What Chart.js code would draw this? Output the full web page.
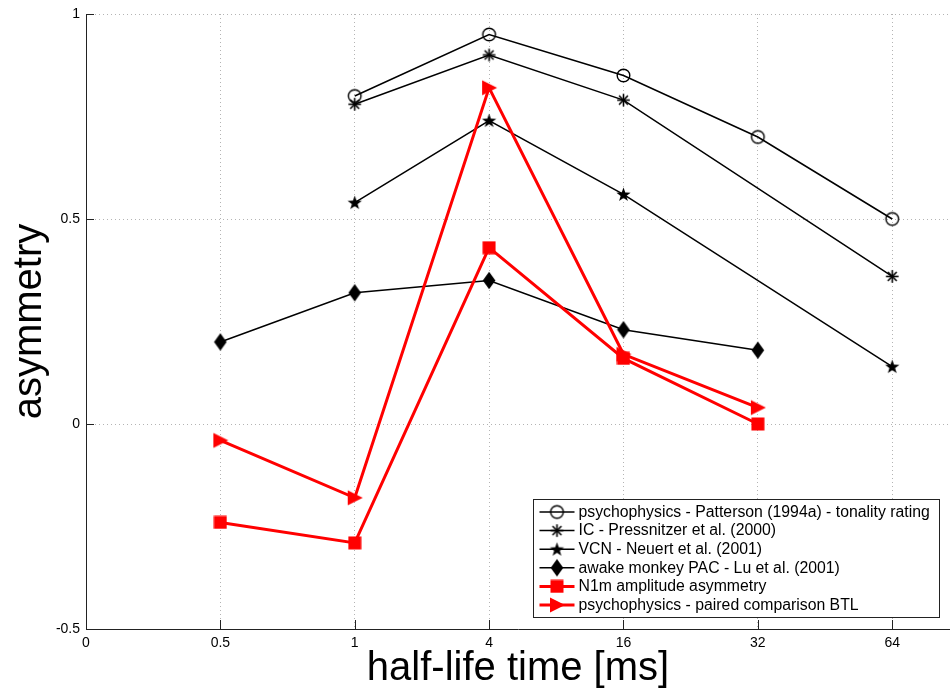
<!DOCTYPE html>
<html>
<head>
<meta charset="utf-8">
<title>asymmetry vs half-life time</title>
<script src="https://cdn.jsdelivr.net/npm/chart.js@4.4.1/dist/chart.umd.min.js"></script>
<style>
	html, body { margin: 0; padding: 0; background: #fff; }
	#wrap { position: relative; width: 950px; height: 691px; }
</style>
</head>
<body>
<div id="wrap"><canvas id="canAsym"></canvas></div>
<script>
'use strict'

//////////////////////////////////////////////////////////////////////
// データ
const halfLifeLabels = ['0', '0.5', '1', '4', '16', '32', '64']; // x軸（等間隔）
const yTickValues = [-0.5, 0, 0.5, 1];

// 各系列（null = 値なし）
const pattersonTonality = [null, null, 0.80, 0.95, 0.85, 0.70, 0.50];
const icPressnitzer     = [null, null, 0.78, 0.90, 0.79, null, 0.36];
const vcnNeuert         = [null, null, 0.54, 0.74, 0.56, null, 0.14];
const monkeyPacLu       = [null, 0.20, 0.32, 0.35, 0.23, 0.18, null];
const n1mAsymmetry      = [null, -0.24, -0.29, 0.43, 0.16, 0.00, null];
const pairedBtl         = [null, -0.04, -0.18, 0.82, 0.17, 0.04, null];

const seriesNames = [
	'psychophysics - Patterson (1994a) - tonality rating',
	'IC - Pressnitzer et al. (2000)',
	'VCN - Neuert et al. (2001)',
	'awake monkey PAC - Lu et al. (2001)',
	'N1m amplitude asymmetry',
	'psychophysics - paired comparison BTL'
];

const RED = '#ff0000';
const FONT = '"Liberation Sans", Arial, Helvetica, sans-serif';


//////////////////////////////////////////////////////////////////////
// マーカー（canvasで作る）
let makeMarker = function (w, h, draw) {
	const c = document.createElement('canvas');
	c.width = w;
	c.height = h;
	draw(c.getContext('2d'), w / 2, h / 2);
	return c;
};

const mkCircle = makeMarker(17, 17, (g, cx, cy) => {
	g.strokeStyle = '#000'; g.lineWidth = 1.4;
	g.beginPath(); g.arc(cx, cy, 6.3, 0, Math.PI * 2); g.stroke();
});

const mkAsterisk = makeMarker(17, 17, (g, cx, cy) => {
	g.strokeStyle = '#000'; g.lineWidth = 1.6;
	const r = 6.3;
	for (let k = 0; k < 4; k++) {
		const a = k * Math.PI / 4;
		g.beginPath();
		g.moveTo(cx - r * Math.cos(a), cy - r * Math.sin(a));
		g.lineTo(cx + r * Math.cos(a), cy + r * Math.sin(a));
		g.stroke();
	}
});

const mkPentagram = makeMarker(17, 17, (g, cx, cy) => {
	g.fillStyle = '#000';
	g.beginPath();
	for (let k = 0; k < 10; k++) {
		const r = (k % 2 === 0) ? 7.5 : 3.0;
		const a = -Math.PI / 2 + k * Math.PI / 5;
		const px = cx + r * Math.cos(a), py = cy + 0.5 + r * Math.sin(a);
		if (k === 0) g.moveTo(px, py); else g.lineTo(px, py);
	}
	g.closePath(); g.fill();
});

const mkDiamond = makeMarker(14, 19, (g, cx, cy) => {
	g.fillStyle = '#000';
	g.beginPath();
	g.moveTo(cx, cy - 8.8); g.lineTo(cx + 6.3, cy); g.lineTo(cx, cy + 8.8); g.lineTo(cx - 6.3, cy);
	g.closePath(); g.fill();
});

const mkSquare = makeMarker(14, 14, (g, cx, cy) => {
	g.fillStyle = RED;
	g.fillRect(cx - 6.5, cy - 6.5, 13, 13);
});

const mkTriangle = makeMarker(18, 18, (g, cx, cy) => {
	g.fillStyle = RED;
	g.beginPath();
	g.moveTo(cx + 8, cy); g.lineTo(cx - 7, cy - 7.5); g.lineTo(cx - 7, cy + 7.5);
	g.closePath(); g.fill();
});


//////////////////////////////////////////////////////////////////////
// datasets
let toPoints = function (arr) {
	const pts = [];
	arr.forEach((v, i) => { if (v !== null) pts.push({ x: i, y: v }); });
	return pts;
};

let seriesData = [pattersonTonality, icPressnitzer, vcnNeuert, monkeyPacLu, n1mAsymmetry, pairedBtl];
let seriesMarkers = [mkCircle, mkAsterisk, mkPentagram, mkDiamond, mkSquare, mkTriangle];
let seriesColors = ['#000', '#000', '#000', '#000', RED, RED];
let seriesWidths = [1.5, 1.5, 1.5, 1.5, 3, 3];

let datasetsAsym = seriesData.map((arr, i) => ({
	label: seriesNames[i],
	data: toPoints(arr),
	borderColor: seriesColors[i],
	backgroundColor: seriesColors[i],
	borderWidth: seriesWidths[i],
	pointStyle: seriesMarkers[i],
	pointRadius: 6,
	pointHoverRadius: 6,
	tension: 0,
	spanGaps: true,
	order: i >= 4 ? 0 : 1
}));


//////////////////////////////////////////////////////////////////////
// 内向きの目盛り（MATLAB風）
const inwardTicks = {
	id: 'inwardTicks',
	beforeDatasetsDraw(chart) {
		const { ctx, chartArea, scales } = chart;
		ctx.save();
		ctx.strokeStyle = '#222';
		ctx.lineWidth = 1;
		ctx.beginPath();
		halfLifeLabels.forEach((_, i) => {
			const px = Math.round(scales.x.getPixelForValue(i)) + 0.5;
			ctx.moveTo(px, chartArea.bottom);
			ctx.lineTo(px, chartArea.bottom - 9);
		});
		yTickValues.forEach((v) => {
			const py = Math.round(scales.y.getPixelForValue(v)) + 0.5;
			ctx.moveTo(chartArea.left, py);
			ctx.lineTo(chartArea.left + 8, py);
		});
		ctx.stroke();
		ctx.restore();
	}
};

// 凡例（プロット内右下の枠）
const boxLegend = {
	id: 'boxLegend',
	afterDraw(chart) {
		const { ctx } = chart;
		const bx = 533.5, by = 499.5, bw = 406, bh = 118;
		ctx.save();
		ctx.fillStyle = '#fff';
		ctx.fillRect(bx, by, bw, bh);
		ctx.strokeStyle = '#222';
		ctx.lineWidth = 1;
		ctx.strokeRect(bx, by, bw, bh);

		ctx.font = '15.8px ' + FONT;
		ctx.textBaseline = 'middle';
		ctx.textAlign = 'left';
		seriesNames.forEach((name, i) => {
			const ry = by + 12.5 + i * 18.6;
			ctx.strokeStyle = seriesColors[i];
			ctx.lineWidth = seriesWidths[i];
			ctx.beginPath();
			ctx.moveTo(bx + 6, ry);
			ctx.lineTo(bx + 41, ry);
			ctx.stroke();
			const m = seriesMarkers[i];
			ctx.drawImage(m, bx + 23.5 - m.width / 2, ry - m.height / 2);
			ctx.fillStyle = '#000';
			ctx.fillText(name, bx + 45, ry + 0.5);
		});
		ctx.restore();
	}
};


//////////////////////////////////////////////////////////////////////
// chart
const canAsym = document.getElementById('canAsym');
const ctxAsym = canAsym.getContext('2d');

let myChartAsym = new Chart(ctxAsym, {
	type: 'line',
	data: { datasets: datasetsAsym },
	options: {
		responsive: true,
		maintainAspectRatio: false,
		animation: false,
		layout: { autoPadding: false, padding: { top: 14, right: 0, bottom: 0, left: 0 } },
		plugins: {
			legend: { display: false },
			tooltip: { enabled: false }
		},
		scales: {
			x: {
				type: 'linear',
				min: 0,
				max: 6.43,
				afterBuildTicks: (s) => { s.ticks = halfLifeLabels.map((_, i) => ({ value: i })); },
				afterFit: (s) => { s.height = 62; s.paddingLeft = 0; s.paddingRight = 0; },
				grid: { color: '#b4b4b4', lineWidth: 1, drawTicks: false },
				border: { display: true, color: '#222', width: 1, dash: [1, 3] },
				ticks: {
					padding: 6,
					color: '#000',
					maxRotation: 0,
					autoSkip: false,
					font: { family: FONT, size: 14 },
					callback: (v) => halfLifeLabels[v] ?? ''
				},
				title: {
					display: true,
					text: 'half-life time [ms]',
					color: '#000',
					font: { family: FONT, size: 40, lineHeight: 1.1 },
					padding: { top: 0, bottom: 0 }
				}
			},
			y: {
				type: 'linear',
				min: -0.5,
				max: 1,
				afterBuildTicks: (s) => { s.ticks = yTickValues.map((v) => ({ value: v })); },
				afterFit: (s) => { s.width = 86; s.paddingTop = 0; s.paddingBottom = 0; },
				grid: { color: '#b4b4b4', lineWidth: 1, drawTicks: false },
				border: { display: true, color: '#222', width: 1, dash: [1, 3] },
				ticks: {
					padding: 6,
					color: '#000',
					font: { family: FONT, size: 14 },
					callback: (v) => String(v)
				},
				title: {
					display: true,
					text: 'asymmetry',
					color: '#000',
					font: { family: FONT, size: 40, lineHeight: 1.2 },
					padding: { top: 6, bottom: 0 }
				}
			}
		}
	},
	plugins: [inwardTicks, boxLegend]
});
</script>
</body>
</html>
